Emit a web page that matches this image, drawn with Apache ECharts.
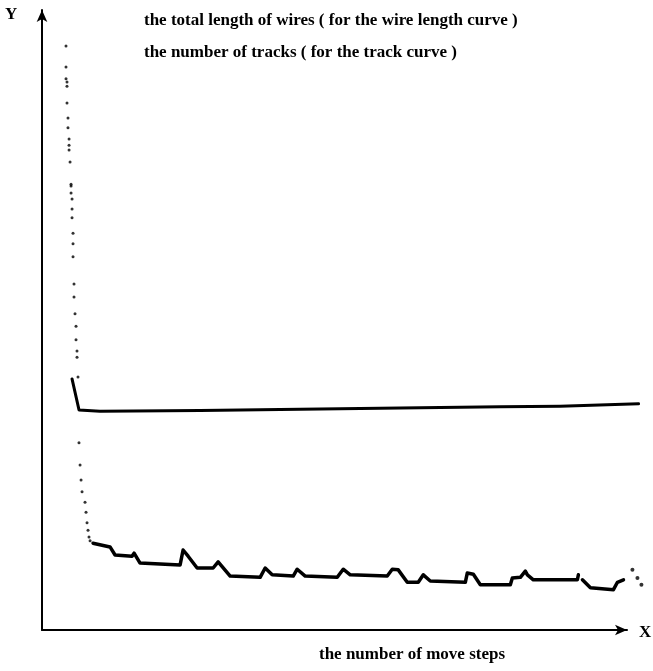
<!DOCTYPE html>
<html>
<head>
<meta charset="utf-8">
<script src="https://cdn.jsdelivr.net/npm/echarts@6/dist/echarts.min.js"></script>
<style>
html,body{margin:0;padding:0;background:#fff;}
#chart{width:653px;height:671px;}
</style>
</head>
<body>
<div id="chart"></div>
<script>
// x: number of move steps (arbitrary units 0..1000), y: arbitrary units 0..100
var earlyDots = [
  [41.0,94.2],[41.0,90.8],[41.0,88.9],[42.7,88.4],[42.7,87.7],[42.7,85.0],[44.4,82.6],[44.4,81.0],
  [46.2,79.2],[46.2,78.2],[46.2,77.4],[47.9,75.5],[49.6,71.9],[49.6,71.6],[49.6,70.5],[51.3,69.5],
  [51.3,67.9],[51.3,66.5],[53.0,64.0],[53.0,62.3],[53.0,60.2],[54.7,55.8],[54.7,53.7],[56.4,51.0],
  [58.1,49.0],[58.1,46.8],[59.8,45.0],[59.8,44.0],[61.5,40.8],
  [63.2,30.2],[65.0,26.6],[66.7,24.2],[68.4,22.3],[73.5,20.6],[75.2,19.0],[76.9,17.3],[78.6,16.1],
  [80.3,15.0],[82.1,14.4]
];
var wireCurve = [
  [51.3,40.5],[63.2,35.5],[99,35.3],[270,35.4],[441,35.6],[612,35.8],[783,36.0],[885,36.1],[1019,36.5]
];
var trackCurve = [
  [87.2,14.0],[90.6,13.7],[116.2,13.4],[124.8,12.1],[153.8,11.9],[157.3,12.4],[167.5,10.8],[235.9,10.5],
  [241.0,12.9],[249.6,11.9],[265.0,10.0],[292.3,10.0],[300.9,11.0],[321.4,8.7],[372.6,8.5],[381.2,10.0],
  [393.2,8.9],[429.1,8.7],[435.9,9.8],[449.6,8.7],[504.3,8.5],[514.5,9.8],[526.5,8.9],[589.7,8.7],
  [598.3,9.8],[608.5,9.7],[623.9,7.7],[642.7,7.7],[651.3,8.9],[663.2,7.9],[723.1,7.7],[726.5,9.2],
  [736.8,9.0],[748.7,7.3],[800.0,7.3],[803.4,8.4],[817.1,8.5],[825.6,9.5],[829.1,8.9],[839.3,8.1],
  [914.5,8.1],[916.2,8.9],null,[923.1,8.1],[936.8,6.8],[976.1,6.5],[982.9,7.7],[993.2,8.1]
];
var lateDots = [[1008.5,9.7],[1017.1,8.4],[1023.9,7.3]];
var titleLines = [
  'the total length of wires ( for the wire length curve )',
  'the number of tracks ( for the track curve )'
];
var xLabel = 'the number of move steps';
var xAxisEnd = 1000;   // where the drawn X arrow ends
var xDataMax = 1030;   // data extends slightly past the arrow tip

var font = '"Liberation Serif", "DejaVu Serif", serif';
var ts = function(sz){ return {fontFamily:font, fontWeight:'bold', fontSize:sz, color:'#000'}; };
var chart = echarts.init(document.getElementById('chart'), null, {renderer:'canvas'});
chart.setOption({
  animation:false,
  backgroundColor:'#fff',
  grid:[
    {left:42, right:8, top:10, bottom:41},
    {left:42, right:26, top:10, bottom:41}
  ],
  title:[
    {text:titleLines[0], left:144, top:12, textStyle:ts(17), padding:0},
    {text:titleLines[1], left:144, top:44, textStyle:ts(17), padding:0},
    {text:xLabel, left:319, top:646, textStyle:ts(17), padding:0},
    {text:'Y', left:5, top:6, textStyle:ts(17), padding:0},
    {text:'X', left:639, top:624, textStyle:ts(17), padding:0}
  ],
  xAxis:[
    {type:'value', gridIndex:0, min:0, max:xDataMax, show:false},
    {type:'value', gridIndex:1, min:0, max:xAxisEnd,
      axisLine:{show:true, symbol:['none','arrow'], symbolSize:[8,12], lineStyle:{color:'#000', width:2}},
      axisTick:{show:false}, axisLabel:{show:false}, splitLine:{show:false}}
  ],
  yAxis:[
    {type:'value', gridIndex:0, min:0, max:100,
      axisLine:{show:true, symbol:['none','arrow'], symbolSize:[8,12], lineStyle:{color:'#000', width:2}},
      axisTick:{show:false}, axisLabel:{show:false}, splitLine:{show:false}},
    {type:'value', gridIndex:1, min:0, max:100, show:false}
  ],
  series:[
    {type:'scatter', data:earlyDots, symbolSize:3, itemStyle:{color:'#000'}},
    {type:'line', data:wireCurve, showSymbol:false, lineStyle:{color:'#000', width:3, join:'round', cap:'round'}},
    {type:'line', data:trackCurve, showSymbol:false, connectNulls:false, lineStyle:{color:'#000', width:3.5, join:'round', cap:'round'}},
    {type:'scatter', data:lateDots, symbolSize:4, itemStyle:{color:'#000'}}
  ]
});
</script>
</body>
</html>
